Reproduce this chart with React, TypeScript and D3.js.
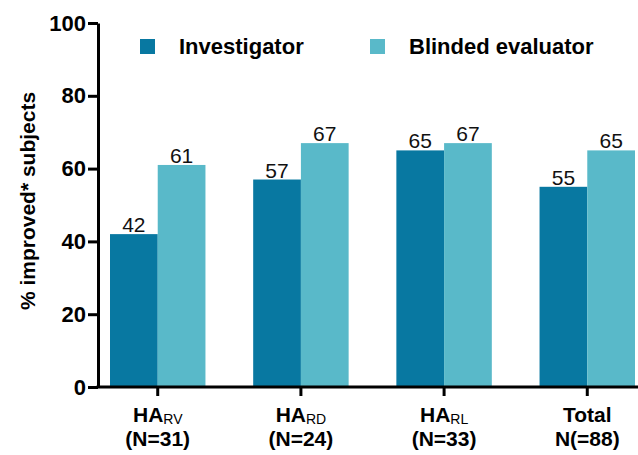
import { useEffect, useRef } from 'react'
import * as d3 from 'd3'

const categories = ['HA_RV', 'HA_RD', 'HA_RL', 'Total']
const labelMain = ['HA', 'HA', 'HA', 'Total']
const labelSub = ['RV', 'RD', 'RL', '']
const labelN = ['(N=31)', '(N=24)', '(N=33)', 'N(=88)']
const seriesNames = ['Investigator', 'Blinded evaluator']
const investigator = [42, 57, 65, 55]
const blinded = [61, 67, 67, 65]
const yTicks = [0, 20, 40, 60, 80, 100]

const colors = ['#0878a1', '#59b9c9']
const font = '"Liberation Sans", Arial, Helvetica, sans-serif'

export default function App() {
  const svgRef = useRef<SVGSVGElement>(null)
  const width = 638
  const height = 455

  useEffect(() => {
    const svg = d3.select(svgRef.current)
    svg.selectAll('*').remove()

    const axisX = 98
    const y = d3.scaleLinear().domain([0, 100]).range([387, 23])
    const x0 = d3.scaleBand().domain(categories).range([110, 635]).paddingInner(1 / 3).paddingOuter(0)
    const x1 = d3.scaleBand().domain(seriesNames).range([0, x0.bandwidth()])

    const g = svg.append('g').style('font-family', font)

    // bars
    const rows = categories.map((c, i) => ({ cat: c, vals: [investigator[i], blinded[i]] }))
    const groups = g.selectAll('g.grp')
      .data(rows)
      .enter()
      .append('g')
      .attr('transform', d => `translate(${x0(d.cat)},0)`)

    groups.selectAll('rect')
      .data(d => d.vals.map((v, k) => ({ key: seriesNames[k], v, k })))
      .enter()
      .append('rect')
      .attr('x', d => x1(d.key)!)
      .attr('width', x1.bandwidth())
      .attr('y', d => y(d.v))
      .attr('height', d => y(0) - y(d.v))
      .attr('fill', d => colors[d.k])

    groups.selectAll('text')
      .data(d => d.vals.map((v, k) => ({ key: seriesNames[k], v, k })))
      .enter()
      .append('text')
      .attr('x', d => x1(d.key)! + x1.bandwidth() / 2)
      .attr('y', d => y(d.v) - 2)
      .attr('text-anchor', 'middle')
      .style('font-size', '21px')
      .attr('fill', '#111')
      .text(d => d.v)

    // y axis
    const yAxis = d3.axisLeft(y).tickValues(yTicks).tickSize(10).tickPadding(2).tickSizeOuter(0)
    const ya = g.append('g').attr('transform', `translate(${axisX},0)`).call(yAxis)
    ya.select('.domain').attr('stroke', '#000').attr('stroke-width', 3)
    ya.selectAll('.tick line').attr('stroke', '#000').attr('stroke-width', 3)
    ya.selectAll('.tick text')
      .style('font-family', font)
      .style('font-size', '22px')
      .style('font-weight', 'bold')
      .attr('fill', '#000')

    // x axis
    g.append('line')
      .attr('x1', axisX - 1.5).attr('x2', width)
      .attr('y1', y(0)).attr('y2', y(0))
      .attr('stroke', '#000').attr('stroke-width', 3)

    const tick = g.append('g').selectAll('g.xt')
      .data(categories)
      .enter()
      .append('g')
      .attr('transform', d => `translate(${x0(d)! + x0.bandwidth() / 2},${y(0)})`)
    tick.append('line').attr('y1', 0).attr('y2', 9).attr('stroke', '#000').attr('stroke-width', 3)

    // category label, first line (with subscript)
    const lbl = tick.append('text')
      .attr('y', 35)
      .attr('text-anchor', 'middle')
      .style('font-size', '21px')
      .style('font-weight', 'bold')
      .attr('fill', '#000')
    lbl.append('tspan').text((d, i) => labelMain[i])
    lbl.append('tspan')
      .attr('dy', 2)
      .style('font-size', '14px')
      .style('font-weight', 'normal')
      .text((d, i) => labelSub[i])

    // second line: N
    tick.append('text')
      .attr('y', 59)
      .attr('text-anchor', 'middle')
      .style('font-size', '21px')
      .style('font-weight', 'bold')
      .attr('fill', '#000')
      .text((d, i) => labelN[i])

    // y title
    g.append('text')
      .attr('transform', `translate(35,201) rotate(-90)`)
      .attr('text-anchor', 'middle')
      .style('font-size', '21px')
      .style('font-weight', 'bold')
      .attr('fill', '#000')
      .text('% improved* subjects')

    // legend
    const legendX = [140, 370]
    const leg = g.selectAll('g.leg')
      .data(seriesNames)
      .enter()
      .append('g')
      .attr('transform', (d, i) => `translate(${legendX[i]},39)`)
    leg.append('rect').attr('width', 15).attr('height', 15).attr('fill', (d, i) => colors[i])
    leg.append('text')
      .attr('x', 39)
      .attr('y', 15)
      .style('font-size', '22px')
      .style('font-weight', 'bold')
      .attr('fill', '#000')
      .text(d => d)
  }, [])

  return (
    <svg
      ref={svgRef}
      width={width}
      height={height}
      style={{ position: 'absolute', left: 0, top: 0, background: '#fff' }}
    />
  )
}
